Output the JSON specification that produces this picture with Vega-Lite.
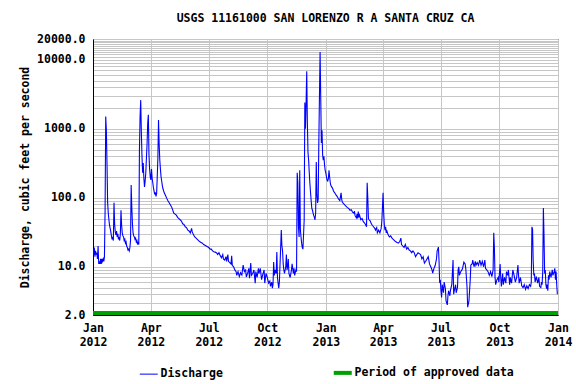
{
  "$schema": "https://vega.github.io/schema/vega-lite/v6.json",
  "width": 465,
  "height": 276,
  "autosize": {"type": "none"},
  "padding": {"left": 93, "top": 39, "right": 18, "bottom": 69},
  "background": "white",
  "title": {"text": "USGS 11161000 SAN LORENZO R A SANTA CRUZ CA", "font": "DejaVu Sans Mono", "fontSize": 11.5, "fontWeight": "bold", "color": "black", "anchor": "middle", "offset": 9},
  "config": {
    "view": {"stroke": "black", "strokeWidth": 1},
    "axis": {"gridColor": "#c6c6c6", "gridWidth": 1, "gridOpacity": 1, "ticks": false, "domainColor": "black", "labelFont": "DejaVu Sans Mono", "labelFontSize": 11.5, "labelFontWeight": "bold", "labelColor": "black", "titleFont": "DejaVu Sans Mono", "titleFontSize": 11.5, "titleFontWeight": "bold", "titleColor": "black", "labelOverlap": false}
  },
  "datasets": {
    "discharge": [
      {"d":"2012-01-01","q":18},{"d":"2012-01-02","q":15},{"d":"2012-01-03","q":19},{"d":"2012-01-04","q":14},{"d":"2012-01-05","q":17},{"d":"2012-01-06","q":15},{"d":"2012-01-07","q":16},{"d":"2012-01-08","q":13},{"d":"2012-01-09","q":20},{"d":"2012-01-10","q":11},{"d":"2012-01-11","q":12},{"d":"2012-01-12","q":11},{"d":"2012-01-13","q":13},{"d":"2012-01-14","q":11},{"d":"2012-01-15","q":13},{"d":"2012-01-16","q":12},{"d":"2012-01-17","q":13},{"d":"2012-01-18","q":12},{"d":"2012-01-19","q":14},{"d":"2012-01-20","q":66},{"d":"2012-01-21","q":1500},{"d":"2012-01-22","q":950},{"d":"2012-01-23","q":320},{"d":"2012-01-24","q":85},{"d":"2012-01-25","q":60},{"d":"2012-01-26","q":48},{"d":"2012-01-27","q":40},{"d":"2012-01-28","q":36},{"d":"2012-01-29","q":32},{"d":"2012-01-30","q":28},{"d":"2012-01-31","q":25},
      {"d":"2012-02-01","q":27},{"d":"2012-02-02","q":24},{"d":"2012-02-03","q":85},{"d":"2012-02-04","q":42},{"d":"2012-02-05","q":32},{"d":"2012-02-06","q":29},{"d":"2012-02-07","q":33},{"d":"2012-02-08","q":27},{"d":"2012-02-09","q":30},{"d":"2012-02-10","q":25},{"d":"2012-02-11","q":27},{"d":"2012-02-12","q":24},{"d":"2012-02-13","q":30},{"d":"2012-02-14","q":66},{"d":"2012-02-15","q":40},{"d":"2012-02-16","q":31},{"d":"2012-02-17","q":28},{"d":"2012-02-18","q":27},{"d":"2012-02-19","q":24},{"d":"2012-02-20","q":25},{"d":"2012-02-21","q":22},{"d":"2012-02-22","q":23},{"d":"2012-02-23","q":20},{"d":"2012-02-24","q":19},{"d":"2012-02-25","q":17.5},{"d":"2012-02-26","q":18},{"d":"2012-02-27","q":17},{"d":"2012-02-28","q":19},{"d":"2012-02-29","q":24},
      {"d":"2012-03-01","q":153},{"d":"2012-03-02","q":73},{"d":"2012-03-03","q":42},{"d":"2012-03-04","q":31},{"d":"2012-03-05","q":28},{"d":"2012-03-06","q":27},{"d":"2012-03-07","q":25},{"d":"2012-03-08","q":26},{"d":"2012-03-09","q":23},{"d":"2012-03-10","q":24},{"d":"2012-03-11","q":21},{"d":"2012-03-12","q":23},{"d":"2012-03-13","q":21},{"d":"2012-03-14","q":490},{"d":"2012-03-15","q":1500},{"d":"2012-03-16","q":2600},{"d":"2012-03-17","q":900},{"d":"2012-03-18","q":400},{"d":"2012-03-19","q":230},{"d":"2012-03-20","q":320},{"d":"2012-03-21","q":190},{"d":"2012-03-22","q":144},{"d":"2012-03-23","q":175},{"d":"2012-03-24","q":230},{"d":"2012-03-25","q":380},{"d":"2012-03-26","q":600},{"d":"2012-03-27","q":1200},{"d":"2012-03-28","q":1600},{"d":"2012-03-29","q":420},{"d":"2012-03-30","q":260},{"d":"2012-03-31","q":200},
      {"d":"2012-04-01","q":181},{"d":"2012-04-02","q":260},{"d":"2012-04-03","q":190},{"d":"2012-04-04","q":165},{"d":"2012-04-05","q":140},{"d":"2012-04-06","q":125},{"d":"2012-04-07","q":112},{"d":"2012-04-08","q":120},{"d":"2012-04-09","q":105},{"d":"2012-04-10","q":115},{"d":"2012-04-11","q":200},{"d":"2012-04-12","q":380},{"d":"2012-04-13","q":1340},{"d":"2012-04-14","q":600},{"d":"2012-04-15","q":352},{"d":"2012-04-16","q":260},{"d":"2012-04-17","q":200},{"d":"2012-04-18","q":175},{"d":"2012-04-19","q":150},{"d":"2012-04-20","q":135},{"d":"2012-04-22","q":118},{"d":"2012-04-24","q":108},{"d":"2012-04-26","q":98},{"d":"2012-04-28","q":90},{"d":"2012-04-30","q":84},{"d":"2012-05-02","q":78},{"d":"2012-05-04","q":72},
      {"d":"2012-05-07","q":60},{"d":"2012-05-09","q":58},{"d":"2012-05-11","q":56},{"d":"2012-05-13","q":52},{"d":"2012-05-15","q":50},{"d":"2012-05-17","q":48},{"d":"2012-05-19","q":46},{"d":"2012-05-21","q":42},{"d":"2012-05-23","q":41},{"d":"2012-05-25","q":38},{"d":"2012-05-27","q":37},{"d":"2012-05-29","q":34},{"d":"2012-05-31","q":33},{"d":"2012-06-02","q":31},{"d":"2012-06-04","q":36},{"d":"2012-06-05","q":32},{"d":"2012-06-07","q":29},{"d":"2012-06-09","q":27},{"d":"2012-06-11","q":26},{"d":"2012-06-13","q":25},{"d":"2012-06-15","q":24},{"d":"2012-06-17","q":23},{"d":"2012-06-19","q":22.5},{"d":"2012-06-21","q":22},{"d":"2012-06-23","q":21},{"d":"2012-06-25","q":20.5},{"d":"2012-06-27","q":20},{"d":"2012-06-29","q":19.5},
      {"d":"2012-07-01","q":19},{"d":"2012-07-03","q":18},{"d":"2012-07-05","q":18},{"d":"2012-07-07","q":17},{"d":"2012-07-09","q":16.5},{"d":"2012-07-11","q":16.3},{"d":"2012-07-13","q":16},{"d":"2012-07-15","q":15},{"d":"2012-07-17","q":16},{"d":"2012-07-19","q":14.5},{"d":"2012-07-21","q":13.5},{"d":"2012-07-23","q":15},{"d":"2012-07-24","q":13},{"d":"2012-07-26","q":12.5},{"d":"2012-07-28","q":14},{"d":"2012-07-29","q":12},{"d":"2012-07-31","q":15},
      {"d":"2012-08-01","q":12},{"d":"2012-08-03","q":11.5},{"d":"2012-08-05","q":11},{"d":"2012-08-06","q":14.4},{"d":"2012-08-07","q":10.5},{"d":"2012-08-09","q":10},{"d":"2012-08-11","q":9},{"d":"2012-08-13","q":8.5},{"d":"2012-08-14","q":7.5},{"d":"2012-08-16","q":8.5},{"d":"2012-08-18","q":7.2},{"d":"2012-08-20","q":8.2},{"d":"2012-08-22","q":7.6},{"d":"2012-08-24","q":10.6},{"d":"2012-08-26","q":8.5},{"d":"2012-08-28","q":9},{"d":"2012-08-29","q":7.1},{"d":"2012-08-31","q":8},
      {"d":"2012-09-02","q":9.5},{"d":"2012-09-03","q":6.8},{"d":"2012-09-05","q":11.3},{"d":"2012-09-06","q":7.5},{"d":"2012-09-08","q":8},{"d":"2012-09-10","q":9},{"d":"2012-09-12","q":5.8},{"d":"2012-09-13","q":8.5},{"d":"2012-09-15","q":7},{"d":"2012-09-17","q":9.5},{"d":"2012-09-18","q":8},{"d":"2012-09-20","q":9.5},{"d":"2012-09-22","q":6.5},{"d":"2012-09-24","q":7.8},{"d":"2012-09-26","q":9},{"d":"2012-09-27","q":5.8},{"d":"2012-09-29","q":8},
      {"d":"2012-10-01","q":7},{"d":"2012-10-03","q":5.8},{"d":"2012-10-05","q":6.2},{"d":"2012-10-06","q":5.2},{"d":"2012-10-08","q":6},{"d":"2012-10-09","q":4.9},{"d":"2012-10-10","q":5.5},{"d":"2012-10-11","q":11.7},{"d":"2012-10-12","q":7.5},{"d":"2012-10-13","q":9},{"d":"2012-10-15","q":8},{"d":"2012-10-16","q":16.4},{"d":"2012-10-17","q":7},{"d":"2012-10-18","q":5.8},{"d":"2012-10-19","q":4.9},{"d":"2012-10-20","q":6},{"d":"2012-10-22","q":19},{"d":"2012-10-23","q":34},{"d":"2012-10-24","q":20},{"d":"2012-10-25","q":17},{"d":"2012-10-26","q":11},{"d":"2012-10-27","q":9},{"d":"2012-10-28","q":8},{"d":"2012-10-30","q":10},{"d":"2012-10-31","q":15},
      {"d":"2012-11-01","q":9},{"d":"2012-11-02","q":10},{"d":"2012-11-03","q":13},{"d":"2012-11-04","q":8},{"d":"2012-11-06","q":7},{"d":"2012-11-08","q":9},{"d":"2012-11-09","q":11},{"d":"2012-11-11","q":8},{"d":"2012-11-12","q":9.5},{"d":"2012-11-13","q":7.5},{"d":"2012-11-15","q":9},{"d":"2012-11-16","q":8.5},{"d":"2012-11-17","q":230},{"d":"2012-11-18","q":165},{"d":"2012-11-19","q":38},{"d":"2012-11-20","q":27},{"d":"2012-11-21","q":250},{"d":"2012-11-22","q":35},{"d":"2012-11-23","q":27},{"d":"2012-11-24","q":22},{"d":"2012-11-25","q":19},{"d":"2012-11-26","q":18},{"d":"2012-11-28","q":48},{"d":"2012-11-29","q":2400},{"d":"2012-11-30","q":1000},{"d":"2012-12-01","q":2400},{"d":"2012-12-02","q":6800},
      {"d":"2012-12-03","q":1200},{"d":"2012-12-04","q":450},{"d":"2012-12-05","q":350},{"d":"2012-12-06","q":230},{"d":"2012-12-07","q":160},{"d":"2012-12-08","q":118},{"d":"2012-12-09","q":90},{"d":"2012-12-10","q":70},{"d":"2012-12-11","q":66},{"d":"2012-12-12","q":60},{"d":"2012-12-13","q":55},{"d":"2012-12-14","q":52},{"d":"2012-12-15","q":48},{"d":"2012-12-16","q":60},{"d":"2012-12-17","q":330},{"d":"2012-12-18","q":110},{"d":"2012-12-19","q":84},{"d":"2012-12-20","q":95},{"d":"2012-12-21","q":620},{"d":"2012-12-22","q":3000},{"d":"2012-12-23","q":13000},{"d":"2012-12-24","q":2900},{"d":"2012-12-25","q":620},{"d":"2012-12-26","q":950},{"d":"2012-12-27","q":416},{"d":"2012-12-28","q":352},{"d":"2012-12-29","q":400},{"d":"2012-12-30","q":300},{"d":"2012-12-31","q":250},
      {"d":"2013-01-01","q":230},{"d":"2013-01-02","q":200},{"d":"2013-01-03","q":181},{"d":"2013-01-04","q":175},{"d":"2013-01-05","q":190},{"d":"2013-01-06","q":250},{"d":"2013-01-07","q":200},{"d":"2013-01-08","q":165},{"d":"2013-01-09","q":150},{"d":"2013-01-10","q":145},{"d":"2013-01-12","q":135},{"d":"2013-01-13","q":125},{"d":"2013-01-15","q":118},{"d":"2013-01-17","q":110},{"d":"2013-01-19","q":104},{"d":"2013-01-21","q":96},{"d":"2013-01-23","q":91},{"d":"2013-01-25","q":118},{"d":"2013-01-26","q":95},{"d":"2013-01-27","q":86},{"d":"2013-01-29","q":82},{"d":"2013-01-31","q":78},
      {"d":"2013-02-02","q":75},{"d":"2013-02-04","q":72},{"d":"2013-02-06","q":70},{"d":"2013-02-08","q":66},{"d":"2013-02-10","q":67},{"d":"2013-02-12","q":62},{"d":"2013-02-14","q":60},{"d":"2013-02-15","q":64},{"d":"2013-02-16","q":55},{"d":"2013-02-18","q":51},{"d":"2013-02-19","q":58},{"d":"2013-02-20","q":50},{"d":"2013-02-21","q":63},{"d":"2013-02-22","q":52},{"d":"2013-02-23","q":56},{"d":"2013-02-25","q":48},{"d":"2013-02-27","q":50},
      {"d":"2013-03-01","q":45},{"d":"2013-03-03","q":43},{"d":"2013-03-05","q":40},{"d":"2013-03-06","q":38},{"d":"2013-03-07","q":165},{"d":"2013-03-08","q":100},{"d":"2013-03-09","q":50},{"d":"2013-03-10","q":48},{"d":"2013-03-12","q":46},{"d":"2013-03-13","q":43},{"d":"2013-03-15","q":40},{"d":"2013-03-17","q":38},{"d":"2013-03-19","q":36},{"d":"2013-03-20","q":34},{"d":"2013-03-22","q":37},{"d":"2013-03-23","q":31},{"d":"2013-03-25","q":34},{"d":"2013-03-27","q":31},{"d":"2013-03-29","q":36},{"d":"2013-03-30","q":45},{"d":"2013-03-31","q":71},
      {"d":"2013-04-01","q":118},{"d":"2013-04-02","q":60},{"d":"2013-04-03","q":40},{"d":"2013-04-04","q":34},{"d":"2013-04-05","q":38},{"d":"2013-04-06","q":31},{"d":"2013-04-07","q":33},{"d":"2013-04-09","q":29},{"d":"2013-04-11","q":27},{"d":"2013-04-13","q":28},{"d":"2013-04-15","q":26},{"d":"2013-04-17","q":25},{"d":"2013-04-19","q":24},{"d":"2013-04-21","q":23},{"d":"2013-04-23","q":22.5},{"d":"2013-04-25","q":22},{"d":"2013-04-27","q":23},{"d":"2013-04-29","q":26},{"d":"2013-04-30","q":21},
      {"d":"2013-05-02","q":20},{"d":"2013-05-04","q":19},{"d":"2013-05-06","q":21},{"d":"2013-05-08","q":18},{"d":"2013-05-10","q":19},{"d":"2013-05-12","q":17.5},{"d":"2013-05-14","q":17},{"d":"2013-05-16","q":16},{"d":"2013-05-18","q":17},{"d":"2013-05-20","q":16},{"d":"2013-05-22","q":14},{"d":"2013-05-24","q":15},{"d":"2013-05-26","q":16},{"d":"2013-05-28","q":15.5},{"d":"2013-05-30","q":15},
      {"d":"2013-06-01","q":13},{"d":"2013-06-03","q":14},{"d":"2013-06-05","q":11.3},{"d":"2013-06-07","q":12},{"d":"2013-06-09","q":13},{"d":"2013-06-11","q":14},{"d":"2013-06-13","q":11},{"d":"2013-06-15","q":10},{"d":"2013-06-17","q":9},{"d":"2013-06-18","q":8.1},{"d":"2013-06-20","q":9.5},{"d":"2013-06-22","q":10.5},{"d":"2013-06-24","q":13},{"d":"2013-06-25","q":17},{"d":"2013-06-27","q":19.3},{"d":"2013-06-28","q":12},{"d":"2013-06-29","q":5.8},{"d":"2013-06-30","q":6.5},
      {"d":"2013-07-01","q":4.5},{"d":"2013-07-02","q":3.6},{"d":"2013-07-03","q":5.5},{"d":"2013-07-05","q":4.2},{"d":"2013-07-06","q":6},{"d":"2013-07-08","q":4.8},{"d":"2013-07-09","q":3.2},{"d":"2013-07-11","q":2.8},{"d":"2013-07-12","q":3.8},{"d":"2013-07-13","q":4.5},{"d":"2013-07-15","q":3.8},{"d":"2013-07-16","q":4.6},{"d":"2013-07-18","q":5.5},{"d":"2013-07-20","q":12.5},{"d":"2013-07-21","q":4},{"d":"2013-07-22","q":4.5},{"d":"2013-07-24","q":5.5},{"d":"2013-07-25","q":4.2},{"d":"2013-07-27","q":5},{"d":"2013-07-28","q":9},{"d":"2013-07-29","q":10},{"d":"2013-07-30","q":7.5},
      {"d":"2013-08-01","q":8.5},{"d":"2013-08-03","q":9},{"d":"2013-08-04","q":9.5},{"d":"2013-08-06","q":11.7},{"d":"2013-08-08","q":11},{"d":"2013-08-09","q":9.5},{"d":"2013-08-11","q":5.1},{"d":"2013-08-12","q":2.6},{"d":"2013-08-14","q":3.2},{"d":"2013-08-15","q":4.5},{"d":"2013-08-16","q":6.4},{"d":"2013-08-17","q":10.6},{"d":"2013-08-19","q":11},{"d":"2013-08-20","q":12.5},{"d":"2013-08-22","q":10},{"d":"2013-08-24","q":12},{"d":"2013-08-25","q":10.5},{"d":"2013-08-27","q":11.5},{"d":"2013-08-29","q":10.5},{"d":"2013-08-31","q":12.5},
      {"d":"2013-09-02","q":10.5},{"d":"2013-09-04","q":12},{"d":"2013-09-06","q":10},{"d":"2013-09-08","q":12.5},{"d":"2013-09-09","q":9.5},{"d":"2013-09-11","q":9},{"d":"2013-09-13","q":8.5},{"d":"2013-09-15","q":7.5},{"d":"2013-09-17","q":8.5},{"d":"2013-09-19","q":7.2},{"d":"2013-09-21","q":9},{"d":"2013-09-22","q":31},{"d":"2013-09-23","q":19},{"d":"2013-09-24","q":7.1},{"d":"2013-09-25","q":5.5},{"d":"2013-09-27","q":6.5},{"d":"2013-09-29","q":7},{"d":"2013-09-30","q":6},
      {"d":"2013-10-02","q":11},{"d":"2013-10-03","q":7},{"d":"2013-10-04","q":5.2},{"d":"2013-10-06","q":8},{"d":"2013-10-07","q":5.5},{"d":"2013-10-09","q":7},{"d":"2013-10-11","q":5.8},{"d":"2013-10-12","q":8.5},{"d":"2013-10-14","q":7.5},{"d":"2013-10-15","q":9},{"d":"2013-10-17","q":5.5},{"d":"2013-10-18","q":7},{"d":"2013-10-20","q":5.8},{"d":"2013-10-22","q":9},{"d":"2013-10-24","q":7.5},{"d":"2013-10-26","q":6},{"d":"2013-10-28","q":7},{"d":"2013-10-30","q":10.6},{"d":"2013-10-31","q":7.5},
      {"d":"2013-11-01","q":5.8},{"d":"2013-11-03","q":7},{"d":"2013-11-05","q":5.3},{"d":"2013-11-07","q":5},{"d":"2013-11-09","q":5.5},{"d":"2013-11-11","q":4.7},{"d":"2013-11-13","q":5.3},{"d":"2013-11-15","q":4.8},{"d":"2013-11-17","q":5.5},{"d":"2013-11-19","q":5.2},{"d":"2013-11-20","q":6},{"d":"2013-11-21","q":38},{"d":"2013-11-22","q":35},{"d":"2013-11-23","q":12},{"d":"2013-11-24","q":7.5},{"d":"2013-11-25","q":8},{"d":"2013-11-26","q":6},{"d":"2013-11-28","q":7.2},{"d":"2013-11-30","q":5.8},
      {"d":"2013-12-02","q":7},{"d":"2013-12-03","q":5.2},{"d":"2013-12-05","q":5},{"d":"2013-12-06","q":6},{"d":"2013-12-07","q":5.5},{"d":"2013-12-08","q":8.5},{"d":"2013-12-09","q":71},{"d":"2013-12-10","q":29},{"d":"2013-12-11","q":8},{"d":"2013-12-12","q":9},{"d":"2013-12-13","q":5.5},{"d":"2013-12-14","q":4.8},{"d":"2013-12-15","q":5.5},{"d":"2013-12-16","q":4.5},{"d":"2013-12-17","q":7.5},{"d":"2013-12-18","q":6.5},{"d":"2013-12-19","q":8.5},{"d":"2013-12-21","q":7},{"d":"2013-12-23","q":9},{"d":"2013-12-24","q":7.5},{"d":"2013-12-26","q":8.5},{"d":"2013-12-27","q":9.5},{"d":"2013-12-28","q":6.5},{"d":"2013-12-29","q":8.5},{"d":"2013-12-30","q":5.5},{"d":"2013-12-31","q":4}
    ],
    "approved": [
      {"start": "2012-01-01", "end": "2014-01-01", "q": 2}
    ]
  },
  "layer": [
    {
      "data": {"name": "approved"},
      "mark": {"type": "rule", "strokeWidth": 4, "yOffset": -2, "strokeCap": "butt"},
      "encoding": {
        "x": {"field": "start", "type": "temporal"},
        "x2": {"field": "end"},
        "y": {"field": "q", "type": "quantitative"},
        "color": {"datum": "Period of approved data", "type": "nominal"}
      }
    },
    {
      "data": {"name": "discharge"},
      "mark": {"type": "line", "strokeWidth": 1.1, "clip": true},
      "encoding": {
        "x": {
          "field": "d", "type": "temporal",
          "scale": {"type": "utc", "domain": [{"year": 2012, "month": 1, "date": 1, "utc": true}, {"year": 2014, "month": 1, "date": 1, "utc": true}]},
          "axis": {
            "title": null,
            "values": [
              {"year": 2012, "month": 1, "date": 1, "utc": true}, {"year": 2012, "month": 4, "date": 1, "utc": true}, {"year": 2012, "month": 7, "date": 1, "utc": true}, {"year": 2012, "month": 10, "date": 1, "utc": true},
              {"year": 2013, "month": 1, "date": 1, "utc": true}, {"year": 2013, "month": 4, "date": 1, "utc": true}, {"year": 2013, "month": 7, "date": 1, "utc": true}, {"year": 2013, "month": 10, "date": 1, "utc": true},
              {"year": 2014, "month": 1, "date": 1, "utc": true}
            ],
            "labelExpr": "[utcFormat(datum.value, '%b'), utcFormat(datum.value, '%Y')]",
            "labelFlush": false,
            "labelPadding": 7,
            "labelLineHeight": 14,
            "grid": true
          }
        },
        "y": {
          "field": "q", "type": "quantitative",
          "scale": {"type": "log", "domain": [2, 20000], "nice": false},
          "axis": {
            "title": "Discharge, cubic feet per second",
            "titlePadding": 6,
            "values": [2,3,4,5,6,7,8,9,10,20,30,40,50,60,70,80,90,100,200,300,400,500,600,700,800,900,1000,2000,3000,4000,5000,6000,7000,8000,9000,10000,11000,12000,13000,14000,15000,16000,17000,18000,19000,20000],
            "labelExpr": "indexof([2,10,100,1000,10000,20000], datum.value) >= 0 ? format(datum.value, '.1f') : ''",
            "labelPadding": 8,
            "grid": true
          }
        },
        "color": {
          "datum": "Discharge", "type": "nominal",
          "scale": {"domain": ["Discharge", "Period of approved data"], "range": ["#0000ff", "#00a000"]},
          "legend": {
            "orient": "none", "legendX": 50, "legendY": 328, "direction": "horizontal", "title": null,
            "symbolType": "stroke", "symbolSize": 324, "symbolStrokeWidth": 1,
            "labelFont": "DejaVu Sans Mono", "labelFontSize": 11.5, "labelFontWeight": "bold", "labelColor": "black",
            "labelOffset": 6, "columnPadding": 102, "padding": 0, "labelLimit": 400,
            "encode": {"symbols": {"update": {"strokeWidth": {"signal": "datum.label === 'Discharge' ? 1 : 4"}}}}
          }
        }
      }
    }
  ]
}
